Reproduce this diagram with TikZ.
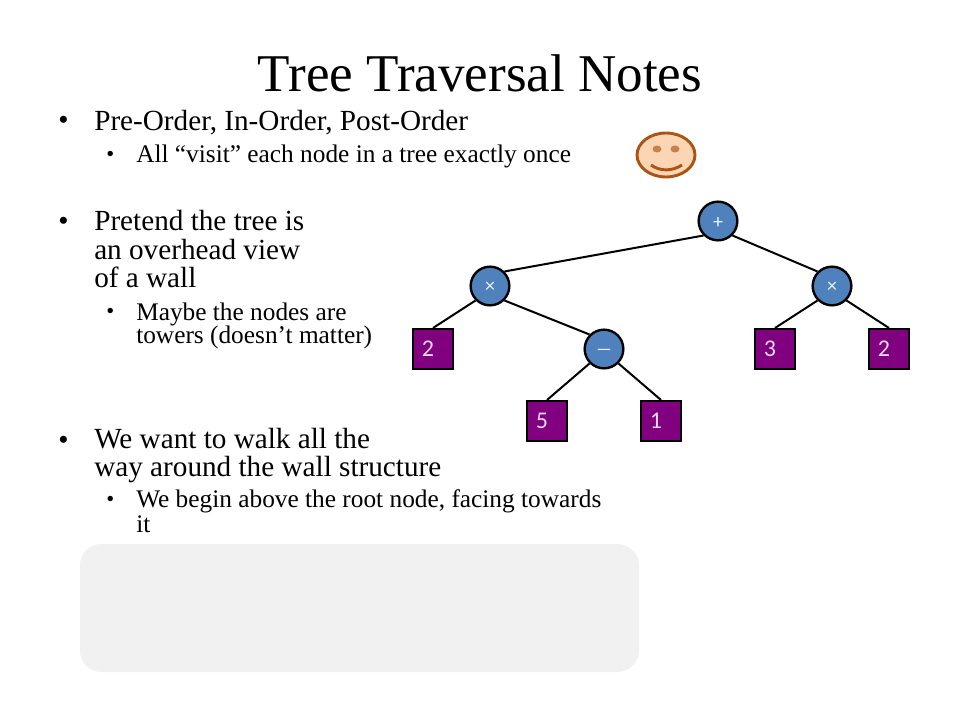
\documentclass[tikz,border=0pt]{standalone}
\usepackage{fontspec}
\setmainfont{Liberation Serif}
\newfontfamily\labelfont{Carlito}
\definecolor{opblue}{RGB}{79,129,189}
\definecolor{leafpurple}{RGB}{128,0,128}
\definecolor{panelgrey}{RGB}{241,241,241}
\definecolor{smilefill}{RGB}{252,213,181}
\definecolor{smileline}{RGB}{170,85,20}
\newcommand{\leaftext}[1]{#1\kern 7.5pt}
\newcommand{\oplabel}[2]{\raisebox{#1}[6pt][6pt]{#2}}
\tikzset{
  opnode/.style={circle,draw=black,line width=1.8pt,fill=opblue,minimum size=29pt,inner sep=0pt,text=white!90!opblue,font=\labelfont\fontsize{15}{15}\selectfont},
  leaf/.style={rectangle,draw=black,line width=1.5pt,fill=leafpurple,minimum size=30pt,inner sep=0pt,text=white!85!leafpurple,font=\labelfont\fontsize{18}{18}\selectfont},
  link/.style={draw=black,line width=1.5pt},
  bigtext/.style={anchor=base west,font=\fontsize{21.9}{24}\selectfont,inner sep=0pt},
  subtext/.style={anchor=base west,font=\fontsize{19}{21}\selectfont,inner sep=0pt},
  bigdot/.style={anchor=base west,font=\fontsize{22}{24}\selectfont,inner sep=0pt},
  subdot/.style={anchor=base west,font=\fontsize{17}{18}\selectfont,inner sep=0pt}
}
\begin{document}
\begin{tikzpicture}[x=0.75pt,y=-0.75pt]
\useasboundingbox (0,0) rectangle (960,720);
\fill[white] (0,0) rectangle (960,720);
\node[anchor=base,inner sep=0pt,font=\fontsize{39.8}{44}\selectfont] (title) at (480,91.5) {Tree Traversal Notes};
% text
\node[bigdot] (b1) at (58,130) {•};
\node[bigtext] (t1) at (94,131) {Pre-Order, In-Order, Post-Order};
\node[subdot] (s1) at (106,161.5) {•};
\node[subtext] (u1) at (136,163) {All “visit” each node in a tree exactly once};
\node[bigdot] (b2) at (58,231) {•};
\node[bigtext] (t2a) at (94,231) {Pretend the tree is};
\node[bigtext] (t2b) at (94,259.5) {an overhead view};
\node[bigtext] (t2c) at (94,287.5) {of a wall};
\node[subdot] (s2) at (106,318.5) {•};
\node[subtext] (u2a) at (136,320.5) {Maybe the nodes are};
\node[subtext] (u2b) at (136,343.5) {towers (doesn’t matter)};
\node[bigdot] (b3) at (58,449) {•};
\node[bigtext] (t3a) at (94,448) {We want to walk all the};
\node[bigtext] (t3b) at (94,476) {way around the wall structure};
\node[subdot] (s3) at (106,506.5) {•};
\node[subtext] (u3a) at (136,507.5) {We begin above the root node, facing towards};
\node[subtext] (u3b) at (136,532.5) {it};
% panel
\fill[panelgrey,rounded corners=16pt] (80,544) rectangle (639,672);
% smiley
\draw[smileline,line width=2.2pt,fill=smilefill] (666,155) ellipse [x radius=29,y radius=22];
\fill[smilefill!35!smileline] (657,149) ellipse [x radius=4.5,y radius=3.5];
\fill[smilefill!35!smileline] (675,149) ellipse [x radius=4.5,y radius=3.5];
\draw[smileline,line width=2.2pt] (651,165) .. controls (660,171.5) and (672,171.5) .. (682,165);
% tree
\node[opnode] (plus) at (718,221) {\oplabel{-5.5pt}{+}};
\node[opnode] (tl) at (490,286) {\oplabel{-4.8pt}{×}};
\node[opnode] (tr) at (832,286) {\oplabel{-4.8pt}{×}};
\node[opnode] (minus) at (604,349) {\oplabel{-5.25pt}{\rmfamily\fontsize{18}{18}\selectfont –}};
\node[leaf] (l2) at (433,349) {\leaftext{2}};
\node[leaf] (l3) at (775,349) {\leaftext{3}};
\node[leaf] (r2) at (889,349) {\leaftext{2}};
\node[leaf] (l5) at (547,421) {\leaftext{5}};
\node[leaf] (l1) at (661,421) {\leaftext{1}};
\draw[link] (plus.south west) -- (tl.north east);
\draw[link] (plus.south east) -- (tr.north west);
\draw[link] (tl.south west) -- (l2.north);
\draw[link] (tl.south east) -- (minus.north west);
\draw[link] (tr.south west) -- (l3.north);
\draw[link] (tr.south east) -- (r2.north);
\draw[link] (minus.south west) -- (l5.north);
\draw[link] (minus.south east) -- (l1.north);
\end{tikzpicture}
\end{document}
